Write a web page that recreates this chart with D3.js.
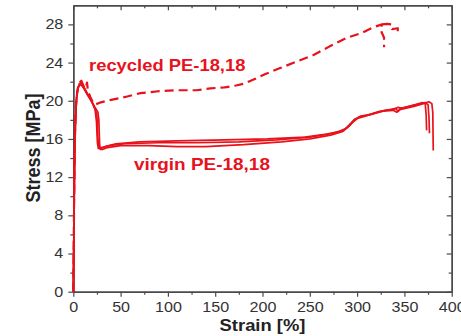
<!DOCTYPE html>
<html>
<head>
<meta charset="utf-8">
<script src="https://cdn.jsdelivr.net/npm/d3@7"></script>
<style>
  body { margin: 0; background: #fff; }
  svg { display: block; }
</style>
</head>
<body>
<svg id="chart" width="461" height="336"></svg>
<script>
// Tensile test curves: stress [MPa] versus strain [%]
const xMajorTicks = [0, 50, 100, 150, 200, 250, 300, 350, 400];
const xMinorTicks = [25, 75, 125, 175, 225, 275, 325, 375];
const yMajorTicks = [0, 4, 8, 12, 16, 20, 24, 28];
const yMinorTicks = [2, 6, 10, 14, 18, 22, 26];

// virgin PE-18,18 specimens (solid lines)
const virgin1 = [[0,0],[0.6,6],[1.2,13],[2,17.5],[3.2,20.2],[5,21.4],[7.5,21.9],[10,21.6],[14,20.9],[18,20.2],[21,19.6],[23,19.1],[24.5,17.8],[25.5,15.6],[26.5,15.0],[29,15.0],[34,15.2],[45,15.5],[70,15.7],[110,15.8],[160,15.9],[205,16.0],[245,16.2],[268,16.5],[282,16.8],[290,17.2],[296,17.8],[302,18.3],[312,18.5],[324,18.9],[336,19.1],[341,19.2],[343,18.9],[346,19.2],[358,19.5],[367,19.7],[372,19.8],[375,19.6],[376,18.2],[376.5,16.6]];
const virgin2 = [[0,0],[0.7,7],[1.4,14],[2.3,18],[3.6,20.5],[5.5,21.5],[8,21.7],[11,21.3],[15,20.6],[19,20.0],[23,19.3],[26,18.8],[27,18.0],[27.8,15.5],[28.5,14.9],[31,14.9],[36,15.1],[50,15.3],[80,15.3],[110,15.2],[140,15.2],[180,15.4],[220,15.7],[250,16.0],[272,16.4],[285,16.8],[292,17.4],[297,18.0],[304,18.4],[316,18.6],[327,18.9],[338,19.0],[342,18.8],[346,19.1],[360,19.4],[370,19.7],[376,19.9],[379,19.7],[380,18.8],[380.5,14.8]];
const virgin3 = [[0,0],[0.8,8],[1.5,14.5],[2.6,18.6],[4,20.9],[6.5,21.8],[9,21.8],[12,21.3],[16,20.5],[20,19.8],[23.5,19.0],[25,18.4],[26,16.0],[27,15.1],[30,15.1],[38,15.3],[55,15.5],[90,15.6],[130,15.6],[175,15.7],[215,15.9],[250,16.2],[275,16.6],[287,17.0],[293,17.6],[298,18.1],[306,18.3],[318,18.7],[330,19.0],[339,19.1],[343,19.3],[348,19.2],[362,19.6],[369,19.8],[372,19.7],[373,18.5],[373.5,16.9]];

// recycled PE-18,18 specimens (dashed lines)
const recycledA = [[0,0],[0.8,9],[1.6,16],[2.8,19.6],[4.5,21.2],[6.5,21.9],[8.5,22.1],[10.5,21.6],[13,21.3],[14.5,21.9],[15.5,21.0],[18,20.4],[21,19.8],[23,19.6],[28,19.8],[40,20.1],[55,20.4],[71,20.8],[90,21.0],[109,21.1],[130,21.1],[145,21.3],[160,21.4],[172,21.6],[181,21.8],[190,22.2],[203,22.8],[218,23.4],[236,24.1],[254,24.8],[271,25.7],[289,26.6],[305,27.1],[317,27.7],[326.5,28.0],[324.5,27.5],[328.5,26.6],[328.5,25.6]];
const recycledB = [[326.5,28.0],[332,28.05],[336.5,28.0],[337,27.5],[343,27.6],[343,26.8]];

const lineColor = "#e8121c";
const fontFamily = "'Liberation Sans', Arial, Helvetica, sans-serif";
const stretch = 1.15;

const svg = d3.select("#chart");
const x = d3.scaleLinear().domain([0, 400]).range([73.3, 451.7]);
const y = d3.scaleLinear().domain([0, 30]).range([291.7, 5.3]);

const axisColor = "#4a4a4a";

function styleAxis(g, showLabels) {
  g.attr("font-family", fontFamily).attr("font-size", 14);
  g.select(".domain").attr("stroke", axisColor).attr("stroke-width", 1.4);
  g.selectAll(".tick line").attr("stroke", axisColor).attr("stroke-width", 1.2);
  if (showLabels) {
    g.selectAll(".tick text").attr("fill", "#333");
  } else {
    g.selectAll(".tick text").remove();
  }
}

// bottom axis (labelled) + minor ticks
const gx = svg.append("g").attr("transform", `translate(0,${y(0)})`)
  .call(d3.axisBottom(x).tickValues(xMajorTicks).tickSize(5).tickSizeOuter(0).tickPadding(5).tickFormat(d3.format("d")));
styleAxis(gx, true);
gx.selectAll(".tick text").each(function() {
  const t = d3.select(this);
  t.attr("transform", `scale(${stretch},1)`);
});
svg.append("g").attr("transform", `translate(0,${y(0)})`)
  .call(d3.axisBottom(x).tickValues(xMinorTicks).tickSize(3).tickSizeOuter(0).tickFormat(""))
  .call(g => styleAxis(g, false));

// left axis (labelled) + minor ticks
const gy = svg.append("g").attr("transform", `translate(${x(0)},0)`)
  .call(d3.axisLeft(y).tickValues(yMajorTicks).tickSize(5).tickSizeOuter(0).tickPadding(3.7).tickFormat(d3.format("d")));
styleAxis(gy, true);
gy.selectAll(".tick text").attr("transform", `scale(${stretch},1)`);
svg.append("g").attr("transform", `translate(${x(0)},0)`)
  .call(d3.axisLeft(y).tickValues(yMinorTicks).tickSize(3).tickSizeOuter(0).tickFormat(""))
  .call(g => styleAxis(g, false));

// mirrored frame: top and right with inward ticks
svg.append("g").attr("transform", `translate(0,${y(30)})`)
  .call(d3.axisTop(x).tickValues(xMajorTicks).tickSize(-5).tickSizeOuter(0).tickFormat(""))
  .call(g => styleAxis(g, false));
svg.append("g").attr("transform", `translate(0,${y(30)})`)
  .call(d3.axisTop(x).tickValues(xMinorTicks).tickSize(-3).tickSizeOuter(0).tickFormat(""))
  .call(g => styleAxis(g, false));
svg.append("g").attr("transform", `translate(${x(400)},0)`)
  .call(d3.axisRight(y).tickValues(yMajorTicks).tickSize(-5).tickSizeOuter(0).tickFormat(""))
  .call(g => styleAxis(g, false));
svg.append("g").attr("transform", `translate(${x(400)},0)`)
  .call(d3.axisRight(y).tickValues(yMinorTicks).tickSize(-3).tickSizeOuter(0).tickFormat(""))
  .call(g => styleAxis(g, false));

// curves
const line = d3.line().x(d => x(d[0])).y(d => y(d[1]));
const plot = svg.append("g");
[virgin1, virgin2, virgin3].forEach(data => {
  plot.append("path").datum(data).attr("d", line)
    .attr("fill", "none").attr("stroke", lineColor)
    .attr("stroke-width", 1.7).attr("stroke-linejoin", "round");
});
[recycledA, recycledB].forEach(data => {
  plot.append("path").datum(data).attr("d", line)
    .attr("fill", "none").attr("stroke", lineColor)
    .attr("stroke-width", 2.2).attr("stroke-dasharray", "9,5")
    .attr("stroke-linejoin", "round");
});

// series labels
svg.append("text").attr("transform", `translate(89,71) scale(${stretch},1)`)
  .attr("font-family", fontFamily).attr("font-weight", "bold").attr("font-size", 16)
  .attr("fill", lineColor).text("recycled PE-18,18");
svg.append("text").attr("transform", `translate(134,170) scale(${stretch},1)`)
  .attr("font-family", fontFamily).attr("font-weight", "bold").attr("font-size", 16.5)
  .attr("fill", lineColor).text("virgin PE-18,18");

// axis titles
svg.append("text").attr("transform", `translate(262.5,331) scale(${stretch},1)`)
  .attr("font-family", fontFamily).attr("font-weight", "bold").attr("font-size", 16)
  .attr("text-anchor", "middle").attr("fill", "#222").text("Strain [%]");
svg.append("text").attr("transform", `translate(40,148) scale(${stretch},1) rotate(-90)`)
  .attr("font-family", fontFamily).attr("font-weight", "bold").attr("font-size", 18)
  .attr("text-anchor", "middle").attr("fill", "#222").text("Stress [MPa]");
</script>
</body>
</html>
